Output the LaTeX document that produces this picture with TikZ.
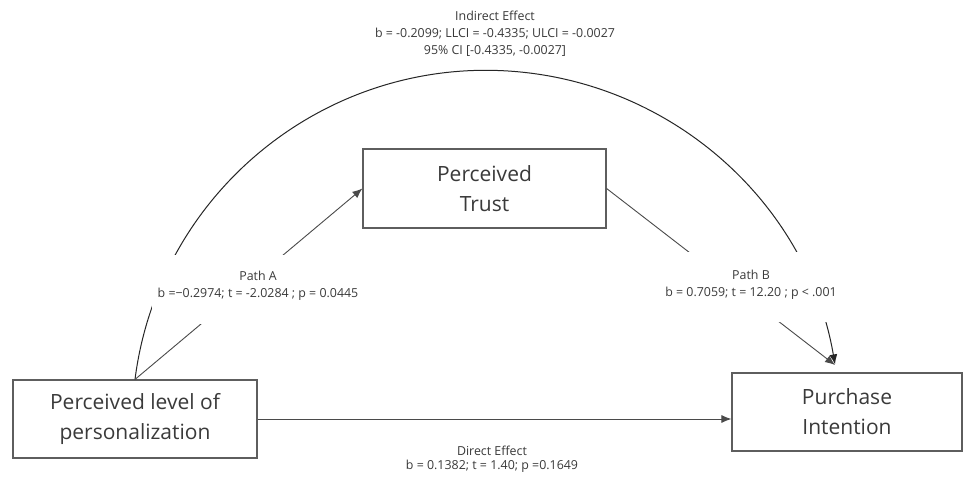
\documentclass[tikz,border=0pt]{standalone}
\usepackage{fontspec}
\setmainfont{Open Sans}
\usetikzlibrary{arrows.meta}
\definecolor{boxline}{HTML}{5E5E5E}
\definecolor{wire}{HTML}{4A4A4A}
\definecolor{ink}{HTML}{3A3A3A}
\tikzset{
  box/.style={draw=boxline, line width=1.2pt, fill=white, align=center,
    text=ink, font=\fontsize{21}{30}\selectfont, inner sep=0pt},
  wireline/.style={draw=wire, line width=0.9pt},
  arcline/.style={draw=black!85, line width=1pt},
  tip/.style={-{Latex[length=10pt,width=8pt]}},
  smalltext/.style={text=ink, inner sep=0pt},
  mask/.style={fill=white, inner xsep=6pt, inner ysep=0pt, text=ink},
}
\newcommand{\lbl}[3]{\raisebox{#1}[\height][\depth]{\fontsize{12.4}{#2}\selectfont\begin{tabular}{@{}c@{}}#3\end{tabular}}}
\begin{document}
\begin{tikzpicture}[x=1pt, y=1pt]
  \useasboundingbox (0,0) rectangle (963,-478);
  \fill[white] (0,0) rectangle (963,-478);

  % construct boxes
  \node[box, minimum width=244pt, minimum height=78pt] (pers) at (135,-419) {Perceived level of\\personalization};
  \node[box, minimum width=243pt, minimum height=79pt] (trust) at (484.5,-188.5) {Perceived\\Trust};
  \node[box, minimum width=230pt, minimum height=78pt] (purch) at (847,-412) {Purchase\\Intention};
  \coordinate (meet) at (835,-365);

  % indirect effect arc, path a, path b
  \draw[arcline, tip] (pers.north) arc[start angle=172.71, end angle=9.74, radius=354pt];
  \draw[wireline, tip] (pers.north) -- (trust.west);
  \draw[wireline, tip] (trust.east) -- (meet);

  % direct effect
  \draw[wireline, tip] (pers.east) -- (pers.east -| purch.west);

  % path labels, masking the lines behind them
  \node[mask, minimum height=69pt] (labA) at (258,-289.5)
    {\lbl{4.4pt}{17}{Path A\\ b =−0.2974; t = -2.0284 ; p = 0.0445}};
  \node[mask, minimum height=70pt] (labB) at (751,-287)
    {\lbl{2pt}{17}{Path B\\ b = 0.7059; t = 12.20 ; p < .001}};

  % effect labels
  \node[smalltext] (labI) at (495,-34.6)
    {\lbl{0pt}{17}{Indirect Effect\\ b = -0.2099; LLCI = -0.4335; ULCI = -0.0027\\ 95\% CI [-0.4335, -0.0027]}};
  \node[smalltext] (labD) at (492,-459.2)
    {\lbl{0pt}{14}{Direct Effect\\ b = 0.1382; t = 1.40; p =0.1649}};
\end{tikzpicture}
\end{document}
